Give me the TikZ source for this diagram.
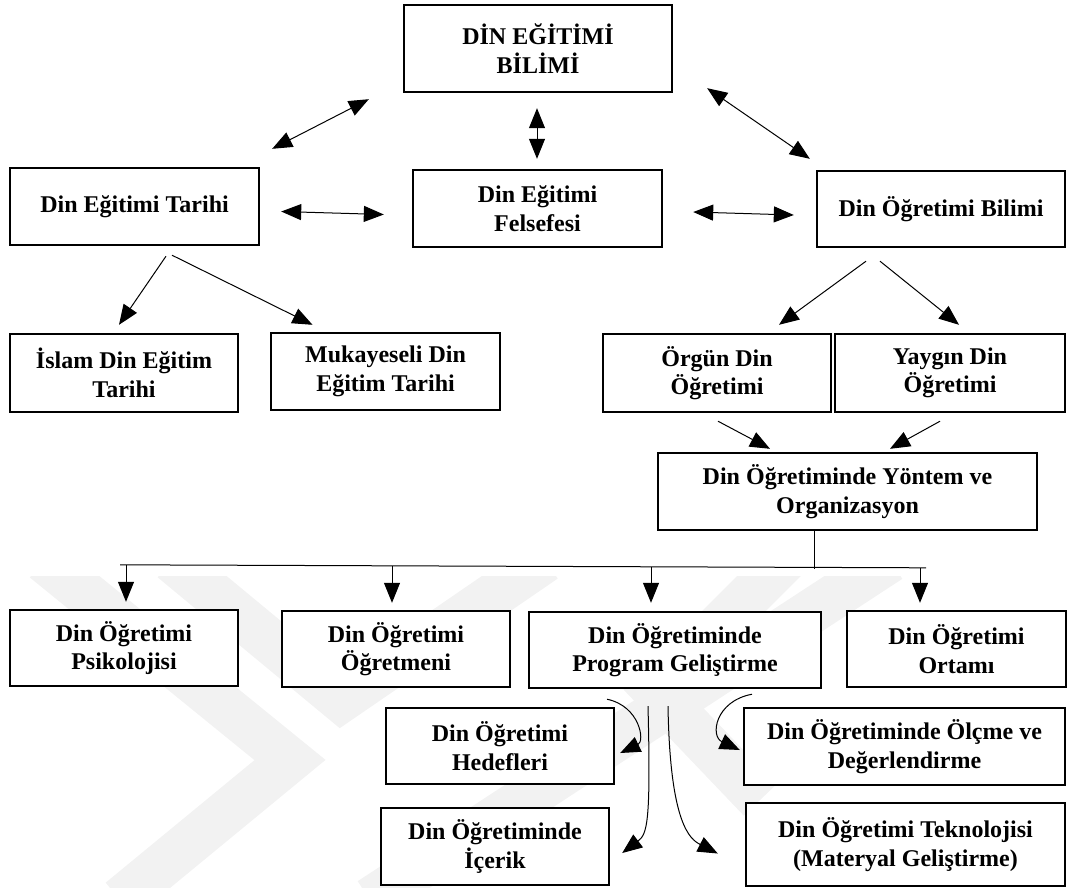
\documentclass[tikz,border=0pt]{standalone}
\usepackage{fontspec}
\setmainfont{Liberation Serif}
\usetikzlibrary{arrows.meta,calc}
\tikzset{
  bx/.style={draw, line width=2.4pt, align=center, inner sep=0pt, fill=white,
    font=\bfseries\fontsize{24}{28.5}\selectfont},
  ln/.style={line width=1pt},
  arr/.style={line width=1pt, -{Triangle[length=20pt,width=16pt]}},
  dbl/.style={line width=1pt, {Triangle[length=20pt,width=16pt]}-{Triangle[length=20pt,width=16pt]}},
  wm/.style={line width=45pt, black!5}
}
\begin{document}
\begin{tikzpicture}[x=1pt,y=-1pt]
\useasboundingbox (0,0) rectangle (1067,887);
% faint watermark
\begin{scope}
\clip (0,576) rectangle (1067,887);
\draw[wm] (44,560) -- (290,760) -- (120,900);
\draw[wm] (172,560) -- (341,700) -- (545,560);
\draw[wm] (890,560) -- (370,900);
\draw[wm] (785,560) -- (655,690) -- (760,800);
\end{scope}
% boxes
\node[bx, minimum width=268pt, minimum height=87pt] (top) at (538,48.5) {DİN EĞİTİMİ\\BİLİMİ};
\node[bx, minimum width=249pt, minimum height=77pt] (tar) at (134.5,206.5) {Din Eğitimi Tarihi};
\node[bx, minimum width=249pt, minimum height=77pt] (fel) at (537.5,208.5) {Din Eğitimi\\Felsefesi};
\node[bx, minimum width=248pt, minimum height=76pt] (obil) at (941,209) {Din Öğretimi Bilimi};
\node[bx, minimum width=228pt, minimum height=78pt] (isl) at (124,373) {İslam Din Eğitim\\Tarihi};
\node[bx, minimum width=229pt, minimum height=77pt] (muk) at (385.5,371.5) {Mukayeseli Din\\Eğitim Tarihi};
\node[bx, minimum width=228pt, minimum height=78pt] (org) at (717,373) {Örgün Din\\Öğretimi};
\node[bx, minimum width=230pt, minimum height=78pt] (yay) at (950,373) {Yaygın Din\\Öğretimi};
\node[bx, minimum width=379pt, minimum height=77pt] (yon) at (847.5,491.5) {Din Öğretiminde Yöntem ve\\Organizasyon};
\node[bx, minimum width=228pt, minimum height=76pt] (psi) at (124,648) {Din Öğretimi\\Psikolojisi};
\node[bx, minimum width=228pt, minimum height=76pt] (ogm) at (396,649) {Din Öğretimi\\Öğretmeni};
\node[bx, minimum width=292pt, minimum height=76pt] (prg) at (675,650) {Din Öğretiminde\\Program Geliştirme};
\node[bx, minimum width=219pt, minimum height=76pt] (ort) at (956.5,649) {Din Öğretimi\\Ortamı};
\node[bx, minimum width=228pt, minimum height=76pt] (hed) at (500,746) {Din Öğretimi\\Hedefleri};
\node[bx, minimum width=321pt, minimum height=77pt] (olc) at (904.5,746.5) {Din Öğretiminde Ölçme ve\\Değerlendirme};
\node[bx, minimum width=228pt, minimum height=77pt] (ice) at (495,846.5) {Din Öğretiminde\\İçerik};
\node[bx, minimum width=319pt, minimum height=83pt] (tek) at (905.5,844.5) {Din Öğretimi Teknolojisi\\(Materyal Geliştirme)};
% double arrows
\draw[dbl] ($(tar.north east)+(12,-18)$) -- ($(top.south west)+(-34,6)$);
\draw[dbl] ($(top.south)+(-1,15)$) -- ($(fel.north)+(-0.5,-10)$);
\draw[dbl] ($(top.south east)+(34,-5)$) -- ($(obil.north west)+(-6,-11)$);
\draw[dbl] ($(tar.east)+(21,5)$) -- ($(fel.west)+(-28,6)$);
\draw[dbl] ($(fel.east)+(30,3.5)$) -- ($(obil.west)+(-22,6)$);
% single arrows
\draw[arr] ($(tar.south)+(31.5,10)$) -- ($(isl.north)+(-5,-8)$);
\draw[arr] ($(tar.south)+(37.5,9)$) -- ($(muk.north)+(-73,-7)$);
\draw[arr] ($(obil.south)+(-75,13)$) -- ($(org.north)+(62,-8)$);
\draw[arr] ($(obil.south)+(-61,13)$) -- ($(yay.north)+(9,-8)$);
\draw[arr] ($(org.south)+(1,8)$) -- ($(yon.north)+(-77.5,-3)$);
\draw[arr] ($(yay.south)+(-10,8)$) -- ($(yon.north)+(42.5,-3)$);
% bus
\coordinate (busL) at ($(psi.north)+(-4,-44)$);
\coordinate (busR) at ($(ort.north)+(-30.5,-42)$);
\draw[ln] ($(yon.south)+(-33.5,0)$) -- ($(yon.south)+(-33.5,38)$);
\draw[ln] (busL) -- (busR);
\draw[arr] ($(psi.north)+(2,-44)$) -- ($(psi.north)+(2,-7)$);
\draw[arr] ($(ogm.north)+(-4,-44)$) -- ($(ogm.north)+(-4,-7)$);
\draw[arr] ($(prg.north)+(-24,-44)$) -- ($(prg.north)+(-24,-8)$);
\draw[arr] ($(ort.north)+(-36.5,-42)$) -- ($(ort.north)+(-36.5,-7)$);
% curved arrows
\draw[arr] ($(prg.south)+(-68,10)$) .. controls ($(prg.south)+(-35,17)$) and ($(prg.south)+(-30,52)$) .. ($(hed.east)+(5,7)$);
\draw[arr] ($(prg.south)+(-27,17)$) .. controls ($(prg.south)+(-24,135)$) and ($(prg.south)+(-28,145)$) .. ($(ice.east)+(12,6.5)$);
\draw[arr] ($(prg.south)+(-7,17)$) .. controls ($(prg.south)+(-5,135)$) and ($(prg.south)+(15,150)$) .. ($(tek.west)+(-27,9)$);
\draw[arr] ($(prg.south)+(77,5)$) .. controls ($(prg.south)+(40,12)$) and ($(prg.south)+(35,47)$) .. ($(olc.west)+(-3,3.5)$);
\end{tikzpicture}
\end{document}
